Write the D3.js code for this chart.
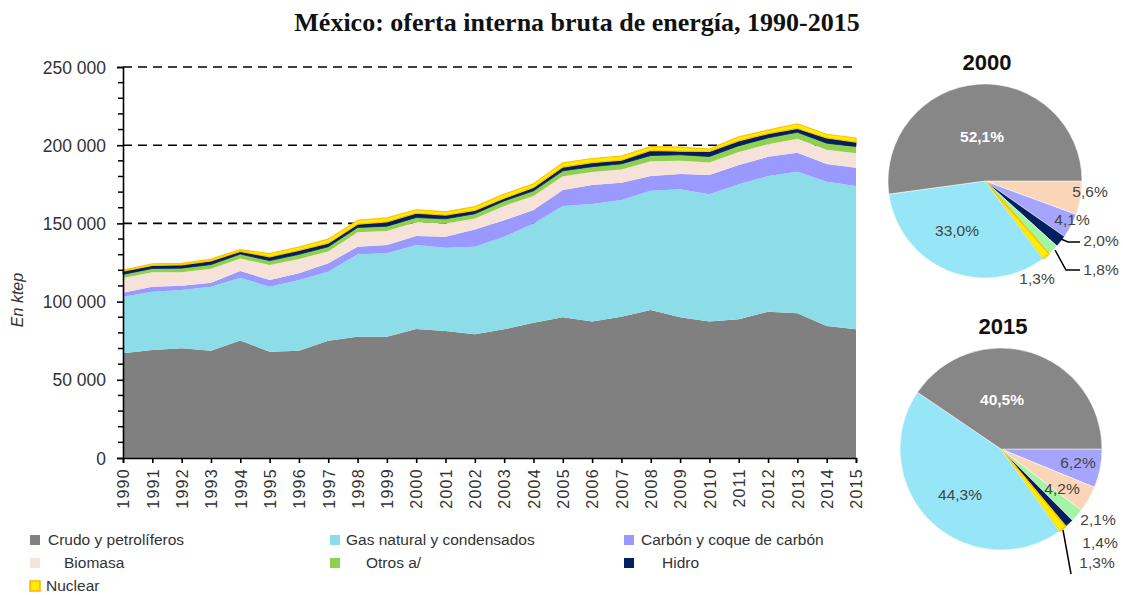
<!DOCTYPE html>
<html>
<head>
<meta charset="utf-8">
<script src="https://cdn.jsdelivr.net/npm/d3@7"></script>
<style>
  body { margin: 0; background: #fff; }
  svg { display: block; }
</style>
</head>
<body>
<svg id="chart" width="1123" height="595"></svg>
<script>
// ---------- DATA ----------
const years = [1990,1991,1992,1993,1994,1995,1996,1997,1998,1999,2000,2001,2002,2003,2004,2005,2006,2007,2008,2009,2010,2011,2012,2013,2014,2015];
const seriesNames = ["Crudo y petrolíferos","Gas natural y condensados","Carbón y coque de carbón","Biomasa","Otros a/","Hidro","Nuclear"];
// values in thousand ktep
const crudo   = [66.9,69.0,70.1,68.6,75.2,68.0,68.6,75.0,77.6,77.6,82.5,81.2,79.1,82.3,86.5,90.0,87.2,90.3,94.6,90.0,87.2,88.7,93.5,92.5,84.4,82.3];
const gas     = [36.2,37.3,37.3,40.9,40.1,41.5,45.2,44.1,52.6,53.3,53.7,53.3,56.0,59.2,63.5,71.1,75.2,74.7,76.3,81.8,81.4,86.3,86.8,90.6,92.3,91.6];
const carbon  = [2.6,3.2,2.8,2.6,4.3,4.3,4.3,5.4,4.9,5.3,5.7,7.0,11.0,10.5,8.5,10.3,12.2,11.0,9.4,9.8,12.4,12.3,12.3,12.1,11.3,11.7];
const biomasa = [9.4,9.2,8.6,8.9,8.0,9.6,9.2,7.6,9.3,8.9,8.9,8.4,7.0,9.2,9.0,8.8,8.2,8.5,9.4,8.5,7.9,8.4,8.0,8.9,9.1,9.3];
const otros   = [2.3,2.5,2.6,2.7,2.8,2.8,2.9,3.0,3.0,3.1,3.0,3.0,3.1,3.2,3.3,3.4,3.5,3.6,3.7,3.8,3.9,4.0,4.1,4.2,4.2,4.3];
const hidro   = [2.0,1.9,2.1,2.3,1.7,2.4,2.6,2.2,2.1,2.8,2.8,2.4,2.1,1.7,2.2,2.4,2.6,2.3,3.3,2.3,3.2,3.1,2.7,2.4,3.3,2.8];
const nuclear = [0.7,1.1,1.0,1.2,1.1,2.1,2.1,2.6,2.4,2.5,2.1,2.1,2.4,2.6,2.3,2.7,2.6,2.6,2.4,2.6,1.5,2.5,2.2,3.0,2.4,2.6];
const yTicks = [0,50000,100000,150000,200000,250000];

// Pies (listed clockwise from 3 o'clock)
const pie2000Names  = ["Biomasa","Carbón y coque de carbón","Hidro","Otros a/","Nuclear","Gas natural y condensados","Crudo y petrolíferos"];
const pie2000Values = [5.6,4.1,2.0,1.8,1.3,33.0,52.1];
const pie2015Names  = ["Carbón y coque de carbón","Biomasa","Otros a/","Hidro","Nuclear","Gas natural y condensados","Crudo y petrolíferos"];
const pie2015Values = [6.2,4.2,2.1,1.4,1.3,44.3,40.5];

// ---------- STYLE ----------
const areaColors = {
  "Crudo y petrolíferos": "#808080",
  "Gas natural y condensados": "#8ddde9",
  "Carbón y coque de carbón": "#9999ff",
  "Biomasa": "#f6e2d8",
  "Otros a/": "#8fd14f",
  "Hidro": "#002060",
  "Nuclear": "#ffee00"
};
const pieColors = {
  "Crudo y petrolíferos": "#878787",
  "Gas natural y condensados": "#97e6f7",
  "Carbón y coque de carbón": "#a5a5ff",
  "Biomasa": "#fbd5b8",
  "Otros a/": "#a2f5a2",
  "Hidro": "#002060",
  "Nuclear": "#ffee00"
};

const svg = d3.select("#chart");
const font = "'Liberation Sans', Arial, sans-serif";

// Title
svg.append("text")
  .attr("x", 577).attr("y", 31)
  .attr("text-anchor", "middle")
  .attr("font-family", "'Liberation Serif', 'Times New Roman', serif")
  .attr("font-weight", "bold").attr("font-size", 26)
  .attr("fill", "#111")
  .text("México: oferta interna bruta de energía, 1990-2015");

// ---------- AREA CHART ----------
const x = d3.scaleLinear().domain([1990, 2015]).range([123, 856]);
const y = d3.scaleLinear().domain([0, 250000]).range([458, 67]);

const table = years.map((yr, i) => ({
  year: yr,
  "Crudo y petrolíferos": crudo[i] * 1000,
  "Gas natural y condensados": gas[i] * 1000,
  "Carbón y coque de carbón": carbon[i] * 1000,
  "Biomasa": biomasa[i] * 1000,
  "Otros a/": otros[i] * 1000,
  "Hidro": hidro[i] * 1000,
  "Nuclear": nuclear[i] * 1000
}));
const stacked = d3.stack().keys(seriesNames)(table);

// gridlines (dashed)
svg.append("g").selectAll("line")
  .data(yTicks.filter(d => d > 0))
  .join("line")
  .attr("x1", x(1990)).attr("x2", x(2015))
  .attr("y1", d => y(d)).attr("y2", d => y(d))
  .attr("stroke", "#000").attr("stroke-width", 1.6)
  .attr("stroke-dasharray", "9,6");

const area = d3.area()
  .x(d => x(d.data.year))
  .y0(d => y(d[0]))
  .y1(d => y(d[1]));

svg.append("g").selectAll("path")
  .data(stacked)
  .join("path")
  .attr("d", area)
  .attr("fill", d => areaColors[d.key])
  .attr("stroke", d => d.key === "Nuclear" ? "#ffc000" : (d.key === "Hidro" ? "#002060" : "none"))
  .attr("stroke-width", d => d.key === "Nuclear" ? 1.2 : (d.key === "Hidro" ? 0.8 : 0))
  .attr("stroke-linejoin", "round");

// Y axis
const yAxis = d3.axisLeft(y)
  .tickValues(yTicks)
  .tickSize(6)
  .tickFormat(d => d === 0 ? "0" : d3.format(",")(d).replace(/,/g, " "));
const yg = svg.append("g").attr("transform", `translate(${x(1990)},0)`).call(yAxis);
// minor ticks
svg.append("g").selectAll("line")
  .data(d3.range(0, 250001, 10000).filter(v => v % 50000 !== 0))
  .join("line")
  .attr("x1", x(1990) - 5).attr("x2", x(1990))
  .attr("y1", d => y(d)).attr("y2", d => y(d))
  .attr("stroke", "#000").attr("stroke-width", 1.5);
yg.select(".domain").attr("stroke", "#000").attr("stroke-width", 1.6);
yg.selectAll(".tick line").attr("stroke", "#000").attr("stroke-width", 1.6);
yg.selectAll(".tick text")
  .attr("x", -17).attr("dy", "0.35em")
  .attr("font-family", font).attr("font-size", 17.5).attr("fill", "#333");

// X axis
const xAxis = d3.axisBottom(x).tickValues(years).tickSize(5).tickFormat(d3.format("d"));
const xg = svg.append("g").attr("transform", `translate(0,${y(0)})`).call(xAxis);
xg.select(".domain").attr("stroke", "#000").attr("stroke-width", 1.6);
xg.selectAll(".tick line").attr("stroke", "#000").attr("stroke-width", 1.6);
xg.selectAll(".tick text")
  .attr("transform", "rotate(-90)")
  .attr("x", -10).attr("y", 0).attr("dy", "0.36em")
  .attr("text-anchor", "end")
  .attr("font-family", font).attr("font-size", 16)
  .attr("letter-spacing", 1.3)
  .attr("fill", "#333");

// Y label
svg.append("text")
  .attr("transform", "translate(23,300) rotate(-90)")
  .attr("text-anchor", "middle")
  .attr("font-family", font).attr("font-style", "italic").attr("font-size", 16)
  .attr("fill", "#333")
  .text("En ktep");

// ---------- LEGEND ----------
const legendItems = [
  {name: "Crudo y petrolíferos", label: "Crudo y petrolíferos", sx: 30, tx: 48, y: 540},
  {name: "Gas natural y condensados", label: "Gas natural y condensados", sx: 330, tx: 346, y: 540},
  {name: "Carbón y coque de carbón", label: "Carbón y coque de carbón", sx: 624, tx: 641, y: 540},
  {name: "Biomasa", label: "Biomasa", sx: 30, tx: 64, y: 563},
  {name: "Otros a/", label: "Otros a/", sx: 330, tx: 366, y: 563},
  {name: "Hidro", label: "Hidro", sx: 624, tx: 662, y: 563},
  {name: "Nuclear", label: "Nuclear", sx: 30, tx: 46, y: 586}
];
const lg = svg.append("g");
lg.selectAll("rect")
  .data(legendItems)
  .join("rect")
  .attr("x", d => d.sx).attr("y", d => d.y - 5)
  .attr("width", 10).attr("height", 10)
  .attr("fill", d => areaColors[d.name])
  .attr("stroke", d => d.name === "Nuclear" ? "#ffb000" : "none")
  .attr("stroke-width", 1.5);
lg.selectAll("text")
  .data(legendItems)
  .join("text")
  .attr("x", d => d.tx).attr("y", d => d.y).attr("dy", "0.35em")
  .attr("font-family", font).attr("font-size", 15.5)
  .attr("fill", "#333")
  .text(d => d.label);

// ---------- PIES ----------
function drawPie(cfg) {
  const g = svg.append("g").attr("transform", `translate(${cfg.cx},${cfg.cy})`);
  const data = cfg.names.map((n, i) => ({name: n, value: cfg.values[i]}));
  const arcs = d3.pie().sort(null).value(d => d.value)
    .startAngle(Math.PI / 2).endAngle(Math.PI / 2 + 2 * Math.PI)(data);
  const arc = d3.arc().innerRadius(0).outerRadius(cfg.r);
  g.selectAll("path")
    .data(arcs)
    .join("path")
    .attr("d", arc)
    .attr("fill", d => pieColors[d.data.name])
    .attr("stroke", d => d.data.name === "Nuclear" ? "#ffc000" : "#fff")
    .attr("stroke-width", d => d.data.name === "Nuclear" ? 1.5 : 0.5);
  svg.append("text")
    .attr("x", cfg.cx + 2).attr("y", cfg.titleY)
    .attr("text-anchor", "middle")
    .attr("font-family", font).attr("font-weight", "bold").attr("font-size", 22)
    .attr("fill", "#111")
    .text(cfg.title);
  // labels
  cfg.labels.forEach(l => {
    const v = cfg.values[cfg.names.indexOf(l.name)];
    svg.append("text")
      .attr("x", l.x).attr("y", l.y).attr("dy", "0.35em")
      .attr("text-anchor", "middle")
      .attr("font-family", font).attr("font-size", 15.5)
      .attr("font-weight", l.bold ? "bold" : "normal")
      .attr("fill", l.bold ? "#fff" : "#444")
      .text(d3.format(".1f")(v).replace(".", ",") + "%");
  });
  (cfg.leaders || []).forEach(pts => {
    svg.append("path")
      .attr("d", d3.line()(pts))
      .attr("fill", "none").attr("stroke", "#000").attr("stroke-width", 1.5);
  });
}

drawPie({
  cx: 985, cy: 181, r: 97, title: "2000", titleY: 70,
  names: pie2000Names, values: pie2000Values,
  labels: [
    {name: "Crudo y petrolíferos", x: 982, y: 137, bold: true},
    {name: "Gas natural y condensados", x: 957, y: 231},
    {name: "Biomasa", x: 1090, y: 192},
    {name: "Carbón y coque de carbón", x: 1072, y: 220},
    {name: "Hidro", x: 1101, y: 241},
    {name: "Otros a/", x: 1101, y: 270},
    {name: "Nuclear", x: 1037, y: 279}
  ],
  leaders: [
    [[1061, 239], [1068, 242], [1080, 242]],
    [[1055, 250], [1066, 270], [1080, 270]]
  ]
});

drawPie({
  cx: 1001, cy: 449, r: 101, title: "2015", titleY: 334,
  names: pie2015Names, values: pie2015Values,
  labels: [
    {name: "Crudo y petrolíferos", x: 1002, y: 400, bold: true},
    {name: "Gas natural y condensados", x: 960, y: 495},
    {name: "Carbón y coque de carbón", x: 1078, y: 463},
    {name: "Biomasa", x: 1062, y: 489},
    {name: "Otros a/", x: 1098, y: 520},
    {name: "Hidro", x: 1100, y: 543},
    {name: "Nuclear", x: 1097, y: 563}
  ],
  leaders: [
    [[1063, 530], [1071, 574]]
  ]
});
</script>
</body>
</html>
